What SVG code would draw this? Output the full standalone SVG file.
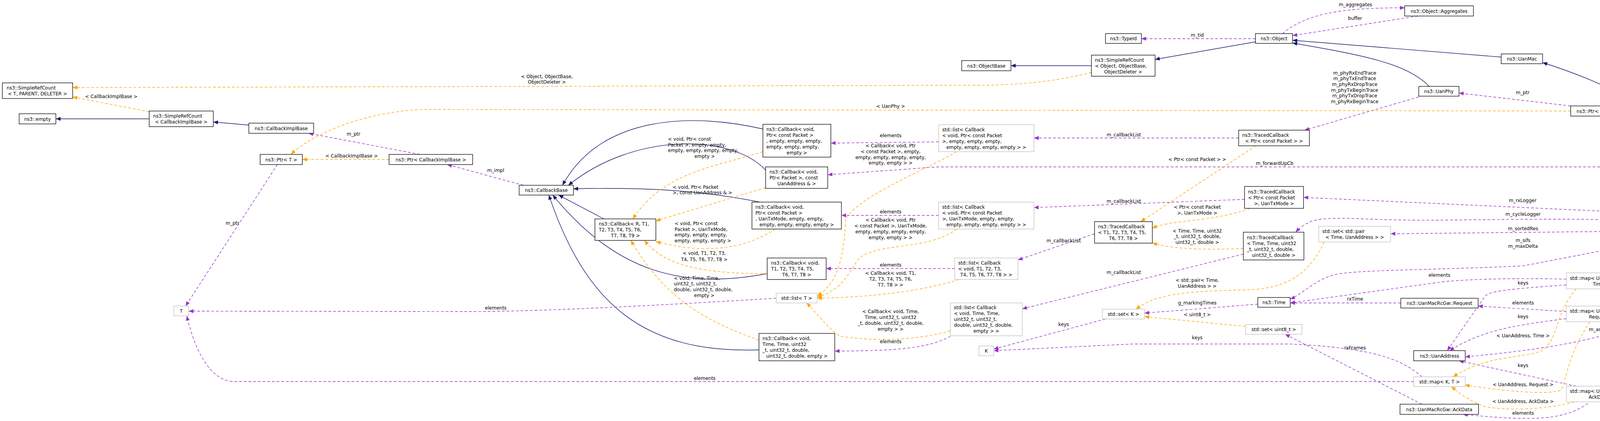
<svg xmlns="http://www.w3.org/2000/svg" width="4467" height="1077" viewBox="0 0 4467 1077">
<style>
text{font-family:"DejaVu Sans","Liberation Sans",sans-serif;font-size:12px;fill:#000}
.m{text-anchor:middle}
rect{fill:#fff;stroke:#000;stroke-width:1.3}
rect.g{stroke:#bfbfbf}
rect.main{fill:#bfbfbf;stroke:#000}
path{fill:none;stroke-width:1.4}
.i{stroke:#191970}
.u{stroke:#9a32cd;stroke-dasharray:7,5}
.t{stroke:#ffa500;stroke-dasharray:7,5}
</style>
<defs>
<marker id="ai" markerUnits="userSpaceOnUse" markerWidth="12" markerHeight="10" refX="12" refY="5" orient="auto"><path d="M0,0 L12,5 L0,10 z" style="fill:#191970;stroke:none"/></marker>
<marker id="au" markerUnits="userSpaceOnUse" markerWidth="12" markerHeight="10" refX="12" refY="5" orient="auto"><path d="M0,0 L12,5 L0,10 z" style="fill:#9a32cd;stroke:none"/></marker>
<marker id="at" markerUnits="userSpaceOnUse" markerWidth="12" markerHeight="10" refX="12" refY="5" orient="auto"><path d="M0,0 L12,5 L0,10 z" style="fill:#ffa500;stroke:none"/></marker>
</defs>
<rect x="0" y="0" width="4467" height="1077" style="fill:#fff;stroke:none"/>
<g id="edges">
<!-- inheritance -->
<path class="i" marker-end="url(#ai)" d="M382,304 L143,304"/>
<path class="i" marker-end="url(#ai)" d="M637,320 L546,312"/>
<path class="i" marker-end="url(#ai)" d="M2794,168 L2588,168"/>
<path class="i" marker-end="url(#ai)" d="M3214,107 L2957,152"/>
<path class="i" marker-end="url(#ai)" d="M3843,146 L3309,103"/>
<path class="i" marker-end="url(#ai)" d="M3659,221 C3600,160 3480,140 3309,110"/>
<path class="i" marker-end="url(#ai)" d="M4385,577 C4370,350 4200,240 3949,160"/>
<path class="i" marker-end="url(#ai)" d="M1953,330 C1780,290 1540,290 1440,474"/>
<path class="i" marker-end="url(#ai)" d="M1960,435 C1870,340 1620,340 1455,474"/>
<path class="i" marker-end="url(#ai)" d="M1945,517 C1760,480 1600,480 1468,483"/>
<path class="i" marker-end="url(#ai)" d="M1546,560 L1430,499"/>
<path class="i" marker-end="url(#ai)" d="M1964,700 C1750,740 1580,700 1415,499"/>
<path class="i" marker-end="url(#ai)" d="M1943,895 C1650,905 1500,780 1405,499"/>
<!-- usage -->
<path class="u" marker-end="url(#au)" d="M710,421 L475,783"/>
<path class="u" marker-end="url(#au)" d="M1075,395 L790,341"/>
<path class="u" marker-end="url(#au)" d="M1340,474 L1145,421"/>
<path class="u" marker-end="url(#au)" d="M1987,763 C1700,780 1400,797 1200,797 L483,796"/>
<path class="u" marker-end="url(#au)" d="M3619,976 L600,976 C540,976 500,900 478,808"/>
<path class="u" marker-end="url(#au)" d="M2403,363 L2127,366"/>
<path class="u" marker-end="url(#au)" d="M2403,551 L2154,551"/>
<path class="u" marker-end="url(#au)" d="M2444,687 L2115,687"/>
<path class="u" marker-end="url(#au)" d="M2433,860 C2380,890 2300,898 2137,898"/>
<path class="u" marker-end="url(#au)" d="M3171,353 L2647,353"/>
<path class="u" marker-end="url(#au)" d="M3186,510 L2647,531"/>
<path class="u" marker-end="url(#au)" d="M2802,598 L2606,665"/>
<path class="u" marker-end="url(#au)" d="M3183,650 L2617,790"/>
<path class="u" marker-end="url(#au)" d="M3214,99 L2922,99"/>
<path class="u" marker-end="url(#au)" d="M3283,86 C3350,30 3450,20 3596,20"/>
<path class="u" marker-end="url(#au)" d="M3630,41 L3309,91"/>
<path class="u" marker-end="url(#au)" d="M3632,248 L3340,333"/>
<path class="u" marker-end="url(#au)" d="M4021,271 L3735,238"/>
<path class="u" marker-end="url(#au)" d="M4380,577 C4330,420 4250,340 4135,297"/>
<path class="u" marker-end="url(#au)" d="M4360,577 C4280,500 4200,427 4100,427 L2400,427 L2119,447"/>
<path class="u" marker-end="url(#au)" d="M4328,582 C4250,545 4200,540 4100,540 L3337,505"/>
<path class="u" marker-end="url(#au)" d="M4330,580 C4200,556 4000,560 3700,563 C3500,566 3420,550 3360,565 C3340,572 3325,585 3317,594"/>
<path class="u" marker-end="url(#au)" d="M4328,590 L3560,598"/>
<path class="u" marker-end="url(#au)" d="M4328,598 L3900,680 C3700,690 3500,690 3430,700 C3370,710 3340,750 3303,765"/>
<path class="u" marker-end="url(#au)" d="M4010,714 C3900,712 3800,712 3700,720 L3303,775"/>
<path class="u" marker-end="url(#au)" d="M3586,775 L3303,775"/>
<path class="u" marker-end="url(#au)" d="M4380,603 C4330,680 4250,700 4188,714"/>
<path class="u" marker-end="url(#au)" d="M4388,603 C4340,740 4250,770 4188,785"/>
<path class="u" marker-end="url(#au)" d="M4392,603 C4350,830 4100,880 3751,913"/>
<path class="u" marker-end="url(#au)" d="M4398,603 C4380,900 4300,990 4188,998"/>
<path class="u" marker-end="url(#au)" d="M4010,729 C3850,740 3810,745 3800,760 L3705,897"/>
<path class="u" marker-end="url(#au)" d="M4010,797 L3784,783"/>
<path class="u" marker-end="url(#au)" d="M4010,815 C3900,830 3800,840 3711,897"/>
<path class="u" marker-end="url(#au)" d="M4035,988 L3735,923"/>
<path class="u" marker-end="url(#au)" d="M4065,1032 C4000,1080 3900,1075 3745,1060"/>
<path class="u" marker-end="url(#au)" d="M3640,964 C3590,920 3520,890 3300,880 L2900,880 L2544,897"/>
<path class="u" marker-end="url(#au)" d="M2830,816 L2544,893"/>
<path class="u" marker-end="url(#au)" d="M3640,1034 L3290,855"/>
<path class="u" marker-end="url(#au)" d="M3220,778 L2930,801"/>
<!-- template -->
<path class="t" marker-end="url(#at)" d="M2794,185 C2700,210 2600,218 2500,218 L186,224"/>
<path class="t" marker-end="url(#at)" d="M382,286 L186,248"/>
<path class="t" marker-end="url(#at)" d="M996,408 L774,408"/>
<path class="t" marker-end="url(#at)" d="M4021,284 L1100,280 C950,280 800,340 745,395"/>
<path class="t" marker-end="url(#at)" d="M3215,373 L2920,567"/>
<path class="t" marker-end="url(#at)" d="M3200,533 C3100,570 3000,560 2950,584"/>
<path class="t" marker-end="url(#at)" d="M3183,636 C3050,640 3000,635 2950,622"/>
<path class="t" marker-end="url(#at)" d="M3390,619 C3350,700 3300,740 3180,742 C3000,745 2950,760 2908,791"/>
<path class="t" marker-end="url(#at)" d="M3189,835 L2930,810"/>
<path class="t" marker-end="url(#at)" d="M4035,739 C3980,800 3990,880 3940,900 C3900,915 3800,910 3720,964"/>
<path class="t" marker-end="url(#at)" d="M4070,823 C4000,930 4010,1000 3990,1000 C3950,1010 3850,1000 3750,985"/>
<path class="t" marker-end="url(#at)" d="M4030,1028 C3950,1050 3850,1050 3800,1040 C3750,1020 3730,1000 3715,989"/>
<path class="t" marker-end="url(#at)" d="M1953,388 C1820,430 1700,440 1620,560"/>
<path class="t" marker-end="url(#at)" d="M1960,480 L1679,565"/>
<path class="t" marker-end="url(#at)" d="M1985,586 C1900,640 1800,650 1679,618"/>
<path class="t" marker-end="url(#at)" d="M1964,700 C1800,700 1700,680 1650,615"/>
<path class="t" marker-end="url(#at)" d="M1943,870 C1800,820 1700,760 1615,615"/>
<path class="t" marker-end="url(#at)" d="M2449,388 C2380,430 2200,500 2165,560 C2160,650 2150,720 2092,757"/>
<path class="t" marker-end="url(#at)" d="M2449,586 C2380,640 2250,620 2200,660 C2170,700 2160,740 2092,760"/>
<path class="t" marker-end="url(#at)" d="M2455,715 C2380,740 2250,760 2092,763"/>
<path class="t" marker-end="url(#at)" d="M2433,846 C2350,870 2250,875 2150,860 C2110,830 2090,800 2065,775"/>
</g>
<g id="edge-labels">
<text class="m" x="595" y="575">m_ptr</text>
<text class="m" x="905" y="347">m_ptr</text>
<text class="m" x="1269" y="440">m_impl</text>
<text class="m" x="1269" y="792">elements</text>
<text class="m" x="1804" y="972">elements</text>
<text class="m" x="2280" y="351">elements</text>
<text class="m" x="2280" y="546">elements</text>
<text class="m" x="2280" y="682">elements</text>
<text class="m" x="2280" y="878">elements</text>
<text class="m" x="2877" y="349">m_callbackList</text>
<text class="m" x="2877" y="519">m_callbackList</text>
<text class="m" x="2723" y="620">m_callbackList</text>
<text class="m" x="2877" y="701">m_callbackList</text>
<text class="m" x="3065" y="94">m_tid</text>
<text class="m" x="3470" y="16">m_aggregates</text>
<text class="m" x="3469" y="51">buffer</text>
<text class="m" x="3468" y="191">m_phyRxEndTrace</text>
<text class="m" x="3468" y="205">m_phyTxEndTrace</text>
<text class="m" x="3468" y="220">m_phyRxDropTrace</text>
<text class="m" x="3468" y="235">m_phyTxBeginTrace</text>
<text class="m" x="3468" y="249">m_phyTxDropTrace</text>
<text class="m" x="3468" y="264">m_phyRxBeginTrace</text>
<text class="m" x="3898" y="241">m_ptr</text>
<text class="m" x="4255" y="336">m_phy</text>
<text class="m" x="3263" y="422">m_forwardUpCb</text>
<text class="m" x="3898" y="517">m_rxLogger</text>
<text class="m" x="3899" y="552">m_cycleLogger</text>
<text class="m" x="3899" y="589">m_sortedRes</text>
<text class="m" x="3899" y="619">m_sifs</text>
<text class="m" x="3899" y="634">m_maxDelta</text>
<text class="m" x="3685" y="708">elements</text>
<text class="m" x="3469" y="769">rxTime</text>
<text class="m" x="4259" y="680">m_propDelay</text>
<text class="m" x="4259" y="726">m_requests</text>
<text class="m" x="4100" y="847">m_address</text>
<text class="m" x="4260" y="939">m_ackData</text>
<text class="m" x="3899" y="728">keys</text>
<text class="m" x="3899" y="779">elements</text>
<text class="m" x="3899" y="814">keys</text>
<text class="m" x="3899" y="939">keys</text>
<text class="m" x="3899" y="1061">elements</text>
<text class="m" x="3065" y="868">keys</text>
<text class="m" x="2723" y="834">keys</text>
<text class="m" x="3469" y="894">rxFrames</text>
<text class="m" x="3065" y="779">g_markingTimes</text>
<text class="m" x="1400" y="200">&lt; Object, ObjectBase,</text>
<text class="m" x="1400" y="214">ObjectDeleter &gt;</text>
<text class="m" x="285" y="251">&lt; CallbackImplBase &gt;</text>
<text class="m" x="900" y="403">&lt; CallbackImplBase &gt;</text>
<text class="m" x="2280" y="276">&lt; UanPhy &gt;</text>
<text class="m" x="3065" y="412">&lt; Ptr&lt; const Packet &gt; &gt;</text>
<text class="m" x="3065" y="534">&lt; Ptr&lt; const Packet</text>
<text class="m" x="3065" y="549">&gt;, UanTxMode &gt;</text>
<text class="m" x="3065" y="595">&lt; Time, Time, uint32</text>
<text class="m" x="3065" y="609">_t, uint32_t, double,</text>
<text class="m" x="3065" y="624">uint32_t, double &gt;</text>
<text class="m" x="3065" y="721">&lt; std::pair&lt; Time,</text>
<text class="m" x="3065" y="736">UanAddress &gt; &gt;</text>
<text class="m" x="3065" y="809">&lt; uint8_t &gt;</text>
<text class="m" x="3899" y="863">&lt; UanAddress, Time &gt;</text>
<text class="m" x="3899" y="988">&lt; UanAddress, Request &gt;</text>
<text class="m" x="3899" y="1031">&lt; UanAddress, AckData &gt;</text>
<text x="1710" y="360">&lt; void, Ptr&lt; const</text>
<text x="1710" y="375">Packet &gt;, empty, empty,</text>
<text x="1710" y="389">empty, empty, empty, empty,</text>
<text class="m" x="1804" y="404">empty &gt;</text>
<text x="1722" y="483">&lt; void, Ptr&lt; Packet</text>
<text x="1722" y="497">&gt;, const UanAddress &amp; &gt;</text>
<text x="1727" y="576">&lt; void, Ptr&lt; const</text>
<text x="1727" y="591">Packet &gt;, UanTxMode,</text>
<text x="1727" y="605">empty, empty, empty,</text>
<text x="1727" y="620">empty, empty, empty &gt;</text>
<text class="m" x="1803" y="652">&lt; void, T1, T2, T3,</text>
<text class="m" x="1803" y="668">T4, T5, T6, T7, T8 &gt;</text>
<text x="1725" y="716">&lt; void, Time, Time,</text>
<text x="1725" y="730">uint32_t, uint32_t,</text>
<text x="1725" y="745">double, uint32_t, double,</text>
<text class="m" x="1803" y="760">empty &gt;</text>
<text class="m" x="2280" y="377">&lt; Callback&lt; void, Ptr</text>
<text class="m" x="2280" y="392">&lt; const Packet &gt;, empty,</text>
<text class="m" x="2280" y="407">empty, empty, empty, empty,</text>
<text class="m" x="2280" y="421">empty, empty &gt; &gt;</text>
<text class="m" x="2280" y="567">&lt; Callback&lt; void, Ptr</text>
<text class="m" x="2280" y="582">&lt; const Packet &gt;, UanTxMode,</text>
<text class="m" x="2280" y="597">empty, empty, empty, empty,</text>
<text class="m" x="2280" y="612">empty, empty &gt; &gt;</text>
<text class="m" x="2280" y="703">&lt; Callback&lt; void, T1,</text>
<text class="m" x="2280" y="718">T2, T3, T4, T5, T6,</text>
<text class="m" x="2280" y="733">T7, T8 &gt; &gt;</text>
<text class="m" x="2280" y="801">&lt; Callback&lt; void, Time,</text>
<text class="m" x="2280" y="816">Time, uint32_t, uint32</text>
<text class="m" x="2280" y="831">_t, double, uint32_t, double,</text>
<text class="m" x="2280" y="846">empty &gt; &gt;</text>
</g>
<g id="n-srct"><rect x="6" y="212" width="180" height="40"/><text x="17" y="229">ns3::SimpleRefCount</text><text class="m" x="96" y="244">&lt; T, PARENT, DELETER &gt;</text></g>
<g id="n-srccb"><rect x="382" y="284" width="164" height="40"/><text x="392" y="301">ns3::SimpleRefCount</text><text class="m" x="464" y="316">&lt; CallbackImplBase &gt;</text></g>
<g id="n-empty"><rect x="49" y="291" width="94" height="26"/><text class="m" x="96" y="308.5">ns3::empty</text></g>
<g id="n-cib"><rect x="637" y="315" width="166" height="26"/><text class="m" x="720" y="332.5">ns3::CallbackImplBase</text></g>
<g id="n-ptrt"><rect x="666" y="395" width="108" height="26"/><text class="m" x="720" y="412.5">ns3::Ptr&lt; T &gt;</text></g>
<g id="n-ptrcib"><rect x="996" y="395" width="214" height="26"/><text class="m" x="1103" y="412.5">ns3::Ptr&lt; CallbackImplBase &gt;</text></g>
<g id="n-t"><rect class="g" x="445" y="783" width="38" height="25"/><text class="m" x="464" y="800">T</text></g>
<g id="n-cbbase"><rect x="1329" y="474" width="139" height="25"/><text class="m" x="1398.5" y="491">ns3::CallbackBase</text></g>
<g id="n-cbrt"><rect x="1523" y="560" width="156" height="55"/><text x="1533" y="577">ns3::Callback&lt; R, T1,</text><text x="1533" y="592">T2, T3, T4, T5, T6,</text><text class="m" x="1601" y="607">T7, T8, T9 &gt;</text></g>
<g id="n-cbpcp"><rect x="1953" y="318" width="174" height="84"/><text x="1962" y="334.5">ns3::Callback&lt; void,</text><text x="1962" y="349.5">Ptr&lt; const Packet &gt;</text><text x="1962" y="364.5">, empty, empty, empty,</text><text x="1962" y="379.5">empty, empty, empty,</text><text class="m" x="2040" y="394.5">empty &gt;</text></g>
<g id="n-cbppua"><rect x="1960" y="427" width="159" height="55"/><text x="1970" y="444">ns3::Callback&lt; void,</text><text x="1970" y="459">Ptr&lt; Packet &gt;, const</text><text class="m" x="2039.5" y="474">UanAddress &amp; &gt;</text></g>
<g id="n-cbutm"><rect x="1925" y="517" width="229" height="69"/><text x="1934" y="533.5">ns3::Callback&lt; void,</text><text x="1934" y="548.5">Ptr&lt; const Packet &gt;</text><text x="1934" y="563.5">, UanTxMode, empty, empty,</text><text class="m" x="2039.5" y="578.5">empty, empty, empty, empty &gt;</text></g>
<g id="n-cbt8"><rect x="1964" y="660" width="151" height="55"/><text x="1974" y="677">ns3::Callback&lt; void,</text><text x="1974" y="692">T1, T2, T3, T4, T5,</text><text class="m" x="2039.5" y="707">T6, T7, T8 &gt;</text></g>
<g id="n-cbtime"><rect x="1943" y="853" width="194" height="70"/><text x="1952" y="870">ns3::Callback&lt; void,</text><text x="1952" y="885">Time, Time, uint32</text><text x="1952" y="900">_t, uint32_t, double,</text><text class="m" x="2040" y="915">uint32_t, double, empty &gt;</text></g>
<g id="n-listt"><rect class="g" x="1987" y="750" width="105" height="25"/><text class="m" x="2039.5" y="767">std::list&lt; T &gt;</text></g>
<g id="n-lpcp"><rect class="g" x="2403" y="319" width="244" height="69"/><text x="2412" y="335.5">std::list&lt; Callback</text><text x="2412" y="350.5">&lt; void, Ptr&lt; const Packet</text><text x="2412" y="365.5">&gt;, empty, empty, empty,</text><text class="m" x="2525" y="380.5">empty, empty, empty, empty &gt; &gt;</text></g>
<g id="n-lutm"><rect class="g" x="2403" y="517" width="244" height="69"/><text x="2412" y="533.5">std::list&lt; Callback</text><text x="2412" y="548.5">&lt; void, Ptr&lt; const Packet</text><text x="2412" y="563.5">&gt;, UanTxMode, empty, empty,</text><text class="m" x="2525" y="578.5">empty, empty, empty, empty &gt; &gt;</text></g>
<g id="n-lt8"><rect class="g" x="2444" y="660" width="162" height="55"/><text x="2453" y="677">std::list&lt; Callback</text><text x="2453" y="692">&lt; void, T1, T2, T3,</text><text class="m" x="2525" y="707">T4, T5, T6, T7, T8 &gt; &gt;</text></g>
<g id="n-ltime"><rect class="g" x="2433" y="775" width="184" height="84"/><text x="2442" y="791">std::list&lt; Callback</text><text x="2442" y="806">&lt; void, Time, Time,</text><text x="2442" y="821">uint32_t, uint32_t,</text><text x="2442" y="836">double, uint32_t, double,</text><text class="m" x="2525" y="851">empty &gt; &gt;</text></g>
<g id="n-k"><rect class="g" x="2506" y="885" width="38" height="25"/><text class="m" x="2525" y="902">K</text></g>
<g id="n-objectbase"><rect x="2462" y="155" width="126" height="26"/><text class="m" x="2525" y="172.5">ns3::ObjectBase</text></g>
<g id="n-srco"><rect x="2794" y="141" width="163" height="54"/><text x="2803" y="157.5">ns3::SimpleRefCount</text><text x="2803" y="172.5">&lt; Object, ObjectBase,</text><text class="m" x="2875.5" y="187.5">ObjectDeleter &gt;</text></g>
<g id="n-typeid"><rect x="2830" y="86" width="92" height="25"/><text class="m" x="2876" y="103">ns3::TypeId</text></g>
<g id="n-object"><rect x="3214" y="86" width="95" height="25"/><text class="m" x="3261.5" y="103">ns3::Object</text></g>
<g id="n-aggregates"><rect x="3596" y="15" width="176" height="26"/><text class="m" x="3684" y="32.5">ns3::Object::Aggregates</text></g>
<g id="n-uanmac"><rect x="3843" y="138" width="106" height="25"/><text class="m" x="3896" y="155">ns3::UanMac</text></g>
<g id="n-uanphy"><rect x="3632" y="221" width="103" height="25"/><text class="m" x="3683.5" y="238">ns3::UanPhy</text></g>
<g id="n-ptruanphy"><rect x="4021" y="271" width="150" height="26"/><text class="m" x="4096" y="288.5">ns3::Ptr&lt; UanPhy &gt;</text></g>
<g id="n-tcp"><rect x="3171" y="333" width="181" height="40"/><text x="3180" y="350">ns3::TracedCallback</text><text class="m" x="3261.5" y="365">&lt; Ptr&lt; const Packet &gt; &gt;</text></g>
<g id="n-tcutm"><rect x="3186" y="477" width="151" height="56"/><text x="3195" y="494.5">ns3::TracedCallback</text><text x="3195" y="509.5">&lt; Ptr&lt; const Packet</text><text class="m" x="3261.5" y="524.5">&gt;, UanTxMode &gt;</text></g>
<g id="n-tct8"><rect x="2802" y="567" width="148" height="55"/><text x="2811" y="584">ns3::TracedCallback</text><text x="2811" y="599">&lt; T1, T2, T3, T4, T5,</text><text class="m" x="2876" y="614">T6, T7, T8 &gt;</text></g>
<g id="n-tctime"><rect x="3183" y="594" width="155" height="71"/><text x="3192" y="611.5">ns3::TracedCallback</text><text x="3192" y="626.5">&lt; Time, Time, uint32</text><text x="3192" y="641.5">_t, uint32_t, double,</text><text class="m" x="3260.5" y="656.5">uint32_t, double &gt;</text></g>
<g id="n-setpair"><rect class="g" x="3376" y="579" width="184" height="40"/><text x="3385" y="596">std::set&lt; std::pair</text><text class="m" x="3468" y="611">&lt; Time, UanAddress &gt; &gt;</text></g>
<g id="n-time"><rect x="3220" y="761" width="83" height="25"/><text class="m" x="3261.5" y="778">ns3::Time</text></g>
<g id="n-setk"><rect class="g" x="2822" y="791" width="108" height="25"/><text class="m" x="2876" y="808">std::set&lt; K &gt;</text></g>
<g id="n-setu8"><rect class="g" x="3189" y="830" width="144" height="25"/><text class="m" x="3261" y="847">std::set&lt; uint8_t &gt;</text></g>
<g id="n-request"><rect x="3586" y="763" width="198" height="25"/><text class="m" x="3685" y="780">ns3::UanMacRcGw::Request</text></g>
<g id="n-uanaddress"><rect x="3619" y="897" width="132" height="26"/><text class="m" x="3685" y="914.5">ns3::UanAddress</text></g>
<g id="n-mapkt"><rect class="g" x="3619" y="964" width="132" height="25"/><text class="m" x="3685" y="981">std::map&lt; K, T &gt;</text></g>
<g id="n-ackdata"><rect x="3584" y="1034" width="201" height="26"/><text class="m" x="3684.5" y="1051.5">ns3::UanMacRcGw::AckData</text></g>
<g id="n-maptime"><rect class="g" x="4010" y="698" width="178" height="41"/><text x="4019" y="715.5">std::map&lt; UanAddress,</text><text class="m" x="4099" y="730.5">Time &gt;</text></g>
<g id="n-mapreq"><rect class="g" x="4010" y="783" width="178" height="40"/><text x="4019" y="800">std::map&lt; UanAddress,</text><text class="m" x="4099" y="815">Request &gt;</text></g>
<g id="n-mapack"><rect class="g" x="4010" y="988" width="178" height="40"/><text x="4019" y="1005">std::map&lt; UanAddress,</text><text class="m" x="4099" y="1020">AckData &gt;</text></g>
<g id="n-main"><rect class="main" x="4328" y="577" width="138" height="26"/><text class="m" x="4397" y="594.5">ns3::UanMacRcGw</text></g>
</svg>
